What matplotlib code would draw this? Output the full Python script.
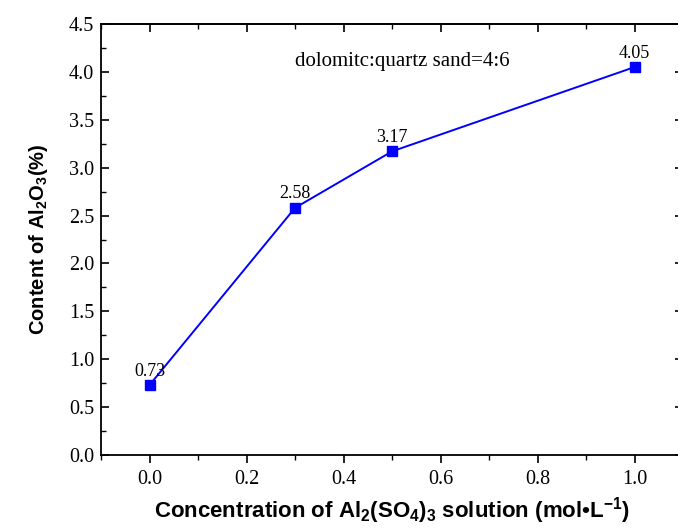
import matplotlib.pyplot as plt
from matplotlib.ticker import MultipleLocator

# data
conc = [0.0, 0.3, 0.5, 1.0]
al2o3 = [0.73, 2.58, 3.17, 4.05]
labels = ['0.73', '2.58', '3.17', '4.05']

plt.rcParams['mathtext.fontset'] = 'custom'
plt.rcParams['mathtext.rm'] = 'Liberation Sans:bold'
plt.rcParams['mathtext.default'] = 'rm'

fig = plt.figure(figsize=(6.78, 5.29), dpi=100)
ax = fig.add_axes([101 / 678, 74 / 529, 582 / 678, 431 / 529])

ax.plot(conc, al2o3, color='#0000ff', lw=1.4, marker='s', ms=6.5)
for x, y, s in zip(conc, al2o3, labels):
    ax.annotate(s, (x, y), xytext=(0, 4), textcoords='offset points',
                ha='center', va='bottom', fontsize=13, family='Liberation Serif')

ax.text(0.517, 0.914, 'dolomitc:quartz sand=4:6', transform=ax.transAxes,
        ha='center', va='center', fontsize=15, family='Liberation Serif')

ax.set_xlim(-0.1, 1.1)
ax.set_ylim(0, 4.5)
ax.xaxis.set_major_locator(MultipleLocator(0.2))
ax.xaxis.set_minor_locator(MultipleLocator(0.1))
ax.yaxis.set_major_locator(MultipleLocator(0.5))
ax.yaxis.set_minor_locator(MultipleLocator(0.25))
ax.tick_params(which='both', direction='in', right=True)
ax.tick_params(axis='x', which='both', direction='out')
ax.tick_params(which='major', length=6, width=1.2, labelsize=14.5, pad=5)
ax.tick_params(which='minor', length=3.5, width=1)
for lab in ax.get_xticklabels() + ax.get_yticklabels():
    lab.set_family('Liberation Serif')
for sp in ax.spines.values():
    sp.set_linewidth(1.3)

# top ticks point inward
top = ax.secondary_xaxis('top')
top.xaxis.set_major_locator(MultipleLocator(0.2))
top.xaxis.set_minor_locator(MultipleLocator(0.1))
top.tick_params(which='both', direction='in', labeltop=False)
top.tick_params(which='major', length=6, width=1.2)
top.tick_params(which='minor', length=3.5, width=1)
top.spines['top'].set_linewidth(1.3)

ax.set_ylabel('Content of Al$_2$O$_3$(%)', fontsize=14.5, fontweight='bold',
              family='Liberation Sans')
ax.yaxis.set_label_coords(-0.088, 0.5)
ax.set_xlabel('Concentration of Al$_2$(SO$_4$)$_3$ solution (mol\u2022L$^{-1}$)',
              fontsize=16, fontweight='bold', family='Liberation Sans')
ax.xaxis.set_label_coords(0.5, -0.094)

fig.savefig('out.png', dpi=100)
